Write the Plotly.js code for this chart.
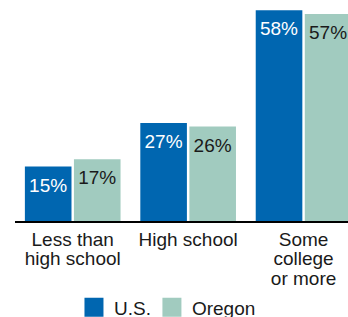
<!DOCTYPE html>
<html><head><meta charset="utf-8">
<script src="https://cdn.plot.ly/plotly-3.0.1.min.js"></script>
<style>html,body{margin:0;padding:0;background:#fff;}</style>
</head><body><div id="chart" style="width:348px;height:317px;"></div>
<script>
const categories = ["Less than<br>high school", "High school", "Some<br>college<br>or more"];
const usValues = [15, 27, 58];
const oregonValues = [17, 26, 57];
const seriesNames = ["U.S.", "Oregon"];

const font = "Liberation Sans, Arial, sans-serif";
const traces = [
  {type:"bar", name:seriesNames[0], x:[0,1,2], y:usValues,
   marker:{color:"#0066b0"}, text:usValues.map(v=>v+"%"), textposition:"inside",
   insidetextanchor:"end", textfont:{color:"#ffffff", size:19, family:font},
   constraintext:"none", hoverinfo:"none"},
  {type:"bar", name:seriesNames[1], x:[0,1,2], y:oregonValues,
   marker:{color:"#a1cbbf"}, text:oregonValues.map(v=>v+"%"), textposition:"inside",
   insidetextanchor:"end", textfont:{color:"#1a1a1a", size:19, family:font},
   constraintext:"none", hoverinfo:"none"}
];
const layout = {
  width:348, height:317,
  margin:{l:15, r:0, t:3, b:96},
  barmode:"group", bargap:0.15, bargroupgap:0.05,
  paper_bgcolor:"#fff", plot_bgcolor:"#fff",
  font:{family:font, size:19, color:"#1a1a1a"},
  xaxis:{range:[-0.5, 2.385], tickmode:"array", tickvals:[0,1,2], ticktext:categories,
    showline:true, linecolor:"#000", linewidth:2, showgrid:false, zeroline:false,
    ticks:"", automargin:false, tickfont:{size:19, color:"#1a1a1a"}},
  yaxis:{range:[0,60], visible:false, showgrid:false, zeroline:false, automargin:false},
  showlegend:true,
  legend:{orientation:"h", x:0.487, xanchor:"center", xref:"container",
    y:0.03, yanchor:"middle", yref:"container",
    font:{size:19}, itemwidth:30}
};
Plotly.newPlot("chart", traces, layout, {staticPlot:true}).then(function(gd){
  // tighten line spacing of multi-line category labels
  gd.querySelectorAll('.xtick text').forEach(function(t){
    t.querySelectorAll('tspan.line').forEach(function(ts, i){
      if (i > 0) ts.setAttribute('dy', (i * 1.03).toFixed(2) + 'em');
    });
  });
  // larger legend swatches
  gd.querySelectorAll('.legendpoints path').forEach(function(p){
    p.setAttribute('d', 'M9.5,9.5H-9.5V-9.5H9.5Z');
  });
  // tighter spacing between legend entries
  var items = gd.querySelectorAll('.legend .traces');
  if (items.length > 1) {
    var tr = items[1].getAttribute('transform') || '';
    items[1].setAttribute('transform', 'translate(-4,0) ' + tr);
  }
  // bar labels sit a bit lower inside the bars
  gd.querySelectorAll('.bartext').forEach(function(t){
    var tr = t.getAttribute('transform') || '';
    t.setAttribute('transform', 'translate(0,5) ' + tr);
  });
});
</script></body></html>
